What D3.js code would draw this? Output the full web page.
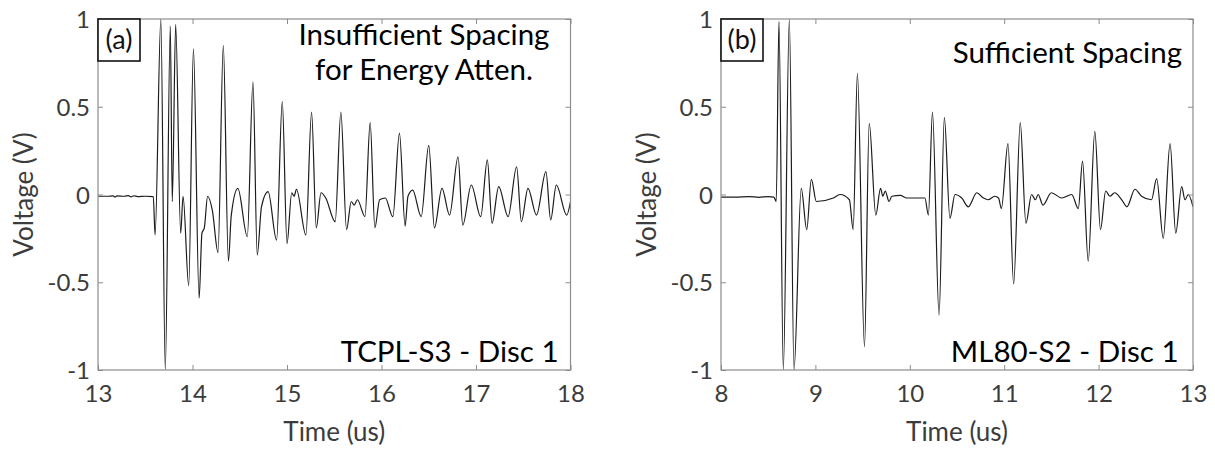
<!DOCTYPE html>
<html>
<head>
<meta charset="utf-8">
<script src="https://cdn.jsdelivr.net/npm/d3@7"></script>
<style>
  html, body { margin: 0; padding: 0; background: #fff; }
  svg { display: block; font-family: Lato, "Open Sans", sans-serif; }
</style>
</head>
<body>
<svg id="chart" width="1215" height="452"></svg>
<script>
// Panel (a): TCPL-S3, disc 1 — received signal, time in microseconds, voltage in volts
const timeA = [13.00, 13.10, 13.16, 13.18, 13.20, 13.28, 13.32, 13.35, 13.38, 13.42, 13.50, 13.585,
  13.604, 13.665, 13.712, 13.765, 13.786, 13.822, 13.875, 13.90, 13.96, 14.01, 14.07, 14.10, 14.125,
  14.16, 14.21, 14.27, 14.326, 14.38, 14.41, 14.48, 14.58, 14.64, 14.685, 14.73, 14.80, 14.89, 14.95,
  15.00, 15.05, 15.075, 15.10, 15.20, 15.26, 15.31, 15.36, 15.41, 15.51, 15.57, 15.63, 15.68, 15.71,
  15.745, 15.825, 15.88, 15.93, 15.98, 16.04, 16.12, 16.19, 16.25, 16.28, 16.33, 16.42, 16.50, 16.56,
  16.64, 16.72, 16.81, 16.86, 16.95, 17.05, 17.12, 17.17, 17.24, 17.34, 17.43, 17.48, 17.55, 17.64,
  17.74, 17.79, 17.85, 17.96, 18.00];
const voltA = [-0.010, -0.010, -0.008, -0.014, -0.008, -0.010, -0.006, -0.014, -0.007, -0.012, -0.010, -0.012,
  -0.23, 1.00, -1.00, 0.96, -0.04, 0.97, -0.22, -0.01, -0.52, 0.83, -0.59, -0.22, -0.19,
  -0.01, -0.09, -0.33, 0.85, -0.38, -0.12, 0.035, -0.24, 0.64, -0.345, -0.07, 0.016, -0.26, 0.53,
  -0.28, 0.01, -0.01, 0.03, -0.23, 0.47, -0.19, 0.01, -0.02, -0.155, 0.47, -0.20, -0.04, -0.06,
  -0.03, -0.126, 0.41, -0.19, -0.03, -0.02, -0.126, 0.35, -0.18, -0.01, 0.025, -0.126, 0.28, -0.19,
  0.035, -0.117, 0.215, -0.174, 0.054, -0.126, 0.197, -0.164, 0.045, -0.126, 0.158, -0.155, 0.035, -0.117,
  0.13, -0.145, 0.054, -0.117, -0.04];

// Panel (b): ML80-S2, disc 1
const timeB = [8.00, 8.15, 8.30, 8.40, 8.50, 8.56, 8.585, 8.614, 8.66, 8.724, 8.773, 8.85, 8.908,
  8.957, 9.01, 9.19, 9.26, 9.36, 9.40, 9.445, 9.52, 9.57, 9.64, 9.69, 9.715, 9.74, 9.78, 9.81, 9.90,
  9.967, 10.07, 10.16, 10.197, 10.24, 10.31, 10.366, 10.425, 10.479, 10.55, 10.62, 10.71, 10.78, 10.83,
  10.90, 10.94, 10.97, 11.04, 11.10, 11.17, 11.23, 11.29, 11.33, 11.36, 11.41, 11.50, 11.61, 11.715,
  11.785, 11.83, 11.89, 11.96, 12.02, 12.075, 12.12, 12.17, 12.245, 12.30, 12.385, 12.455, 12.56,
  12.615, 12.685, 12.757, 12.817, 12.88, 12.915, 12.95, 13.00];
const voltB = [-0.015, -0.015, -0.012, -0.016, -0.012, -0.015, -0.04, 0.985, -1.00, 1.00, -1.00, 0.035, -0.20,
  0.087, -0.04, -0.02, 0.00, -0.03, -0.20, 0.69, -0.867, 0.405, -0.117, 0.035, -0.01, 0.02, -0.04, -0.01, -0.005,
  -0.02, -0.02, -0.02, -0.117, 0.47, -0.687, 0.44, -0.136, 0.00, -0.02, -0.07, 0.01, -0.02, -0.03,
  -0.01, -0.02, -0.08, 0.29, -0.51, 0.41, -0.164, 0.00, -0.03, 0.00, -0.06, 0.01, -0.02, 0.00,
  -0.08, 0.19, -0.38, 0.36, -0.20, 0.02, -0.01, 0.01, -0.03, -0.07, 0.03, -0.01, -0.03,
  0.09, -0.25, 0.29, -0.22, 0.045, -0.03, 0.00, -0.07];

const xTicksA = [13, 14, 15, 16, 17, 18];
const xTicksB = [8, 9, 10, 11, 12, 13];
const yTicks = [-1, -0.5, 0, 0.5, 1];
const yTickLabels = ["-1", "-0.5", "0", "0.5", "1"];
const panelTags = ["(a)", "(b)"];
const topNotes = [["Insufficient Spacing", "for Energy Atten."], ["Sufficient Spacing"]];
const sampleNames = ["TCPL-S3 - Disc 1", "ML80-S2 - Disc 1"];
const xTitle = "Time (us)";
const yTitle = "Voltage (V)";

// Layout of the two axes boxes (pixels)
const plotTop = 19, plotBottom = 370;
const panels = [
  { times: timeA, volts: voltA, domain: [13, 18], ticks: xTicksA, left: 98, right: 570.5,
    tag: panelTags[0], notes: topNotes[0], noteX: 424, noteAnchor: "middle", noteY: [44.8, 80.4],
    name: sampleNames[0], nameX: 558.5, titleX: 33 },
  { times: timeB, volts: voltB, domain: [8, 13], ticks: xTicksB, left: 721, right: 1193,
    tag: panelTags[1], notes: topNotes[1], noteX: 1182, noteAnchor: "end", noteY: [62.5],
    name: sampleNames[1], nameX: 1178.5, titleX: 656 }
];

const axisColor = "#8c8c8c";
const labelColor = "#3c3c3c";
const tickFont = 24, titleFont = 26, noteFont = 29.5, tagFont = 27;
const svg = d3.select("#chart");

panels.forEach((p, i) => {
  const x = d3.scaleLinear().domain(p.domain).range([p.left, p.right]);
  const y = d3.scaleLinear().domain([-1, 1]).range([plotBottom, plotTop]);
  const g = svg.append("g");

  // clip the trace to the axes box
  const clipId = "clip" + i;
  svg.append("defs").append("clipPath").attr("id", clipId)
    .append("rect").attr("x", p.left).attr("y", plotTop)
    .attr("width", p.right - p.left).attr("height", plotBottom - plotTop);

  const pts = p.times.map((t, k) => [t, p.volts[k]]);
  const line = d3.line().x(d => x(d[0])).y(d => y(d[1])).curve(d3.curveMonotoneX);
  g.append("path").datum(pts)
    .attr("clip-path", `url(#${clipId})`)
    .attr("d", line)
    .attr("fill", "none")
    .attr("stroke", "#1c1c1c")
    .attr("stroke-width", 1.2)
    .attr("stroke-linejoin", "round");

  // axes with inward ticks on all four sides
  const styleAxis = sel => {
    sel.select(".domain").remove();
    sel.selectAll(".tick line").attr("stroke", axisColor).attr("stroke-width", 1);
    sel.selectAll(".tick text").attr("fill", labelColor).attr("font-size", tickFont)
      .attr("font-family", "Lato, sans-serif");
  };
  const bottom = g.append("g").attr("transform", `translate(0,${plotBottom})`)
    .call(d3.axisBottom(x).tickValues(p.ticks).tickFormat(d3.format("d")).tickSize(-5).tickPadding(0))
    .call(styleAxis);
  bottom.selectAll(".tick text").attr("y", 31.5).attr("dy", null);

  g.append("g").attr("transform", `translate(0,${plotTop})`)
    .call(d3.axisTop(x).tickValues(p.ticks).tickFormat("").tickSize(-5))
    .call(styleAxis);

  g.append("g").attr("transform", `translate(${p.left},0)`)
    .call(d3.axisLeft(y).tickValues(yTicks).tickFormat((d, k) => yTickLabels[k]).tickSize(-5).tickPadding(8))
    .call(styleAxis)
    .selectAll(".tick text").attr("dy", "0.36em");

  g.append("g").attr("transform", `translate(${p.right},0)`)
    .call(d3.axisRight(y).tickValues(yTicks).tickFormat("").tickSize(-5))
    .call(styleAxis);

  g.append("rect")
    .attr("x", p.left).attr("y", plotTop)
    .attr("width", p.right - p.left).attr("height", plotBottom - plotTop)
    .attr("fill", "none").attr("stroke", axisColor).attr("stroke-width", 1.2);

  // axis titles
  g.append("text")
    .attr("x", (p.left + p.right) / 2).attr("y", 441)
    .attr("text-anchor", "middle").attr("font-size", titleFont).attr("fill", labelColor)
    .text(xTitle);
  g.append("text")
    .attr("transform", `translate(${p.titleX},${(plotTop + plotBottom) / 2}) rotate(-90)`)
    .attr("text-anchor", "middle").attr("font-size", titleFont).attr("fill", labelColor)
    .text(yTitle);

  // panel tag in a boxed corner
  g.append("rect")
    .attr("x", p.left).attr("y", plotTop).attr("width", 42).attr("height", 42)
    .attr("fill", "#fff").attr("stroke", "#111").attr("stroke-width", 1.6);
  g.append("text")
    .attr("x", p.left + 21).attr("y", plotTop + 30)
    .attr("text-anchor", "middle").attr("font-size", tagFont).attr("fill", "#111")
    .text(p.tag);

  // annotations
  p.notes.forEach((s, k) => {
    g.append("text")
      .attr("x", p.noteX).attr("y", p.noteY[k])
      .attr("text-anchor", p.noteAnchor).attr("font-size", noteFont).attr("fill", "#000")
      .text(s);
  });
  g.append("text")
    .attr("x", p.nameX).attr("y", 361.5)
    .attr("text-anchor", "end").attr("font-size", noteFont).attr("fill", "#000")
    .text(p.name);
});
</script>
</body>
</html>
